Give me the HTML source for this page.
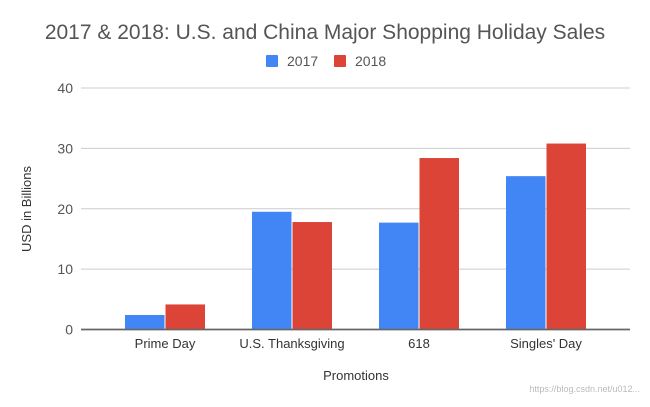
<!DOCTYPE html>
<html><head><meta charset="utf-8"><style>
body{margin:0;background:#fff;font-family:"Liberation Sans",sans-serif}
svg text{font-family:"Liberation Sans",sans-serif}
</style></head><body>
<svg id="chart" width="650" height="402" viewBox="0 0 650 402">
<text x="325" y="39" text-anchor="middle" font-size="21" fill="#555">2017 &amp; 2018: U.S. and China Major Shopping Holiday Sales</text>
<g>
<rect x="266" y="55" width="12" height="12" fill="#4285f4" rx="1"/>
<text x="287" y="66" font-size="14" fill="#555">2017</text>
<rect x="334" y="55" width="12" height="12" fill="#db4437" rx="1"/>
<text x="355" y="66" font-size="14" fill="#555">2018</text>
</g>
<g id="grid"></g><g id="bars"></g><g id="xlabels"></g>
<text transform="translate(31,209) rotate(-90)" text-anchor="middle" font-size="13" fill="#333">USD in Billions</text>
<text x="356" y="380" text-anchor="middle" font-size="13" fill="#333">Promotions</text>
<text x="640" y="392" text-anchor="end" font-size="9" fill="#bbb">https://blog.csdn.net/u012...</text>
</svg>
<script>
const categories=["Prime Day","U.S. Thanksgiving","618","Singles' Day"];
const series2017=[2.4,19.5,17.7,25.4];
const series2018=[4.15,17.8,28.4,30.8];
const yTicks=[0,10,20,30,40];
const NS="http://www.w3.org/2000/svg";
const x0=81,x1=630,y0=329.5,yTop=88,yMax=40;
const plotL=101.5,catW=127;
const y=v=>y0-(v/yMax)*(y0-yTop);
const cx=i=>plotL+catW*(i+0.5);
function mk(tag,attrs,parent){const e=document.createElementNS(NS,tag);for(const k in attrs)e.setAttribute(k,attrs[k]);parent.appendChild(e);return e;}
const grid=document.getElementById('grid');
yTicks.forEach(t=>{
 const l=mk('line',{x1:x0,x2:x1,y1:y(t),y2:y(t),stroke:t===0?'#666':'#ccc','stroke-width':t===0?1.5:1},grid);
 
 
 const tx=mk('text',{x:73,y:y(t)+5,'text-anchor':'end','font-size':14,fill:'#555'},grid);
 tx.textContent=t;
 
 
});
const bars=document.getElementById('bars'),xl=document.getElementById('xlabels');
const bw=39.5;
categories.forEach((c,i)=>{
 const a=mk('rect',{x:cx(i)-bw-0.5,y:y(series2017[i]),width:bw,height:y0-y(series2017[i]),fill:'#4285f4'},bars);
 
 
 const b=mk('rect',{x:cx(i)+0.5,y:y(series2018[i]),width:bw,height:y0-y(series2018[i]),fill:'#db4437'},bars);
 
 
 const t=mk('text',{x:cx(i),y:348,'text-anchor':'middle','font-size':13,fill:'#333'},xl);
 t.textContent=c;
 
 
});
// redraw baseline over bars
const base=mk('line',{x1:x0,x2:x1,y1:y0,y2:y0,stroke:'#666','stroke-width':1.5},bars);


</script>
</body></html>
